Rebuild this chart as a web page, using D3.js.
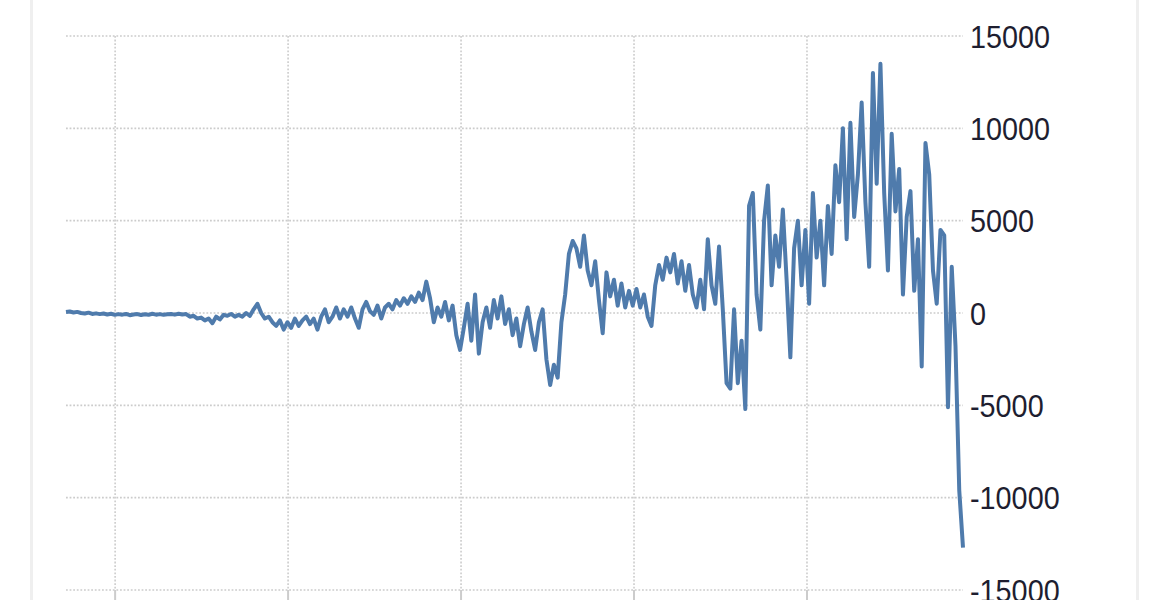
<!DOCTYPE html>
<html>
<head>
<meta charset="utf-8">
<script src="https://cdn.jsdelivr.net/npm/d3@7"></script>
<style>
  html, body { margin: 0; padding: 0; background: #ffffff; }
  svg { display: block; }
</style>
</head>
<body>
<svg id="chart" width="1170" height="600"></svg>
<script>
// ---- data ----
const startYear = 1993.58;
const endYear = 2019.51;
const gridYears = [1995, 2000, 2005, 2010, 2015];
const yTicks = [15000, 10000, 5000, 0, -5000, -10000, -15000];
const values = [
  50, 80, 30, 60, 0, -30, 20, -50, -20, -60,
  -30, -80, -40, -100, -60, -90, -50, -120, -80, -60,
  -110, -70, -100, -40, -90, -60, -100, -70, -50, -90,
  -40, -80, -60, -200, -150, -300, -250, -400, -300, -550,
  -200, -350, -100, -150, -50, -200, -100, -200, 0, -150,
  200, 500, 0, -300, -200, -500, -700, -400, -900, -500,
  -800, -300, -700, -400, -200, -600, -300, -900, -200, 200,
  -500, -200, 300, -300, 200, -200, 300, -300, -800, 200,
  600, 100, -100, 400, -300, 300, 500, 200, 700, 400,
  800, 500, 900, 600, 1100, 700, 1700, 800, -500, 300,
  -200, 600, -400, 400, -1200, -2000, -800, 500, -1500, 1000,
  -2200, -500, 300, -800, 700, -300, 900, -600, 200, -1200,
  -300, -1800, -600, 300, -1000, -2000, -500, 200, -2500, -3900,
  -2800, -3500, -500, 1000, 3200, 3900, 3500, 2500, 4200, 2300,
  1500, 2800, 700, -1100, 2200, 900, 1800, 400, 1600, 300,
  1200, 400, 1300, 300, 1000, -200, -700, 1500, 2600, 1800,
  3000, 2200, 3200, 1600, 2800, 1200, 2600, 1000, 300, 1800,
  200, 4000, 1500, 500, 3600, 200, -3800, -4100, 200, -3800,
  -1500, -5200, 5800, 6500, 1000, -900, 5000, 6900, 1500, 4200,
  2500, 5600, 1800, -2400, 3500, 5000, 1500, 4500, 500, 6500,
  3000, 5000, 1500, 5800, 3200, 8000, 6000, 10000, 4000, 10300,
  5200, 7500, 11400, 6000, 2500, 13000, 7000, 13500, 6500, 2300,
  9700, 5500, 7800, 1000, 5200, 6600, 1200, 4000, -2900, 9200,
  7500, 2300, 500, 4500, 4200, -5100, 2500, -1800, -9600, -12700
];

// ---- layout ----
const svg = d3.select("#chart");
const plotLeft = 66, plotRight = 963, plotTop = 36, plotBottom = 590;

const n = values.length;
const data = values.map((v, i) => ({
  year: startYear + (endYear - startYear) * i / (n - 1),
  value: v
}));

const x = d3.scaleLinear().domain([startYear, endYear]).range([plotLeft, plotRight]);
const y = d3.scaleLinear().domain([-15000, 15000]).range([plotBottom, plotTop]);

// outer frame lines
svg.append("line").attr("x1", 31.5).attr("x2", 31.5).attr("y1", 0).attr("y2", 600)
  .attr("stroke", "#efefef").attr("stroke-width", 3);
svg.append("line").attr("x1", 1137.5).attr("x2", 1137.5).attr("y1", 0).attr("y2", 600)
  .attr("stroke", "#efefef").attr("stroke-width", 3);

// horizontal gridlines
svg.append("g").selectAll("line").data(yTicks).join("line")
  .attr("x1", plotLeft).attr("x2", plotRight)
  .attr("y1", d => y(d)).attr("y2", d => y(d))
  .attr("stroke", "#cccccc").attr("stroke-width", 1.6)
  .attr("stroke-dasharray", "1.8,1.8");

// vertical gridlines
svg.append("g").selectAll("line").data(gridYears).join("line")
  .attr("x1", d => x(d)).attr("x2", d => x(d))
  .attr("y1", plotTop).attr("y2", plotBottom)
  .attr("stroke", "#cccccc").attr("stroke-width", 1.6)
  .attr("stroke-dasharray", "1.8,1.8");

// bottom x-axis tick marks
svg.append("g").selectAll("line").data(gridYears).join("line")
  .attr("x1", d => x(d)).attr("x2", d => x(d))
  .attr("y1", plotBottom).attr("y2", plotBottom + 14)
  .attr("stroke", "#cccccc").attr("stroke-width", 2);

// y labels on the right
svg.append("g").selectAll("text").data(yTicks).join("text")
  .attr("transform", d => `translate(970,${y(d)}) scale(0.9,1)`)
  .attr("dy", "0.36em")
  .attr("font-family", "Liberation Sans, Arial, sans-serif")
  .attr("font-size", 32)
  .attr("fill", "#1e1e30")
  .text(d => d);

// the line
const line = d3.line().x(d => x(d.year)).y(d => y(d.value));
svg.append("path").datum(data)
  .attr("d", line)
  .attr("fill", "none")
  .attr("stroke", "#4f7bac")
  .attr("stroke-width", 4)
  .attr("stroke-linejoin", "round");
</script>
</body>
</html>
